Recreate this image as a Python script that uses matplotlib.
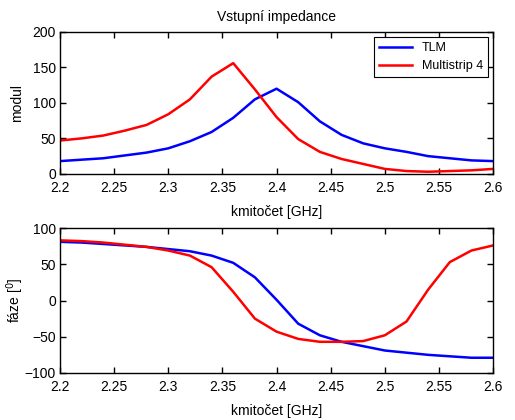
import numpy as np
import matplotlib
matplotlib.use("Agg")
import matplotlib.pyplot as plt

plt.rcParams['font.family'] = ['Liberation Sans', 'DejaVu Sans']
plt.rcParams['font.size'] = 10

# frequency [GHz]
freq = np.round(np.arange(2.2, 2.6001, 0.02), 2)

# magnitude
mod_tlm = [18, 20, 22, 26, 30, 36, 46, 59, 79, 105, 120,
           101, 74, 55, 43, 36, 31, 25, 22, 19, 18]
mod_ms4 = [47, 50, 54, 61, 69, 84, 105, 137, 156, 119, 80,
           49, 31, 21, 14, 7, 4, 3, 4, 5, 7]

# phase [deg]
faze_tlm = [81, 80, 78, 76, 74, 71, 68, 62, 52, 32, 1,
            -32, -48, -57, -63, -69, -72, -75, -77, -79, -79]
faze_ms4 = [83, 82, 80, 77, 74, 69, 62, 46, 12, -25, -43,
            -53, -57, -57, -56, -48, -29, 15, 53, 69, 76]

xticks = [2.2, 2.25, 2.3, 2.35, 2.4, 2.45, 2.5, 2.55, 2.6]

fig = plt.figure(figsize=(5.15, 4.2), dpi=100)
ax1 = fig.add_axes([0.1165, 0.586, 0.841, 0.338])
ax2 = fig.add_axes([0.1165, 0.112, 0.841, 0.345])

ax1.plot(freq, mod_tlm, color='#0000ff', lw=1.8, label='TLM')
ax1.plot(freq, mod_ms4, color='#ff0000', lw=1.8, label='Multistrip 4')
ax1.set_ylim(0, 200)
ax1.set_yticks([0, 50, 100, 150, 200])
ax1.set_ylabel('modul')
ax1.yaxis.set_label_coords(-0.083, 0.5)
ax1.set_title('Vstupní impedance', fontsize=10, pad=8)
leg = ax1.legend(loc='upper right', fancybox=False, framealpha=1,
                 edgecolor='black', borderaxespad=0.4, handlelength=2.6,
                 fontsize=9)
leg.get_frame().set_linewidth(0.8)

ax2.plot(freq, faze_tlm, color='#0000ff', lw=1.8)
ax2.plot(freq, faze_ms4, color='#ff0000', lw=1.8)
ax2.set_ylim(-100, 100)
ax2.set_yticks([-100, -50, 0, 50, 100])
ax2.set_ylabel('fáze [$^0$]')
ax2.yaxis.set_label_coords(-0.078, 0.5)

for ax in (ax1, ax2):
    ax.set_xlim(2.2, 2.6)
    ax.set_xticks(xticks)
    ax.set_xticklabels([f'{t:g}' for t in xticks])
    ax.set_xlabel('kmitočet [GHz]', labelpad=7)
    ax.tick_params(direction='in', top=True, right=True, length=4,
                   width=1, labelsize=10)
    ax.tick_params(axis='x', pad=5)
    ax.tick_params(axis='y', pad=3)
    for s in ax.spines.values():
        s.set_linewidth(1)

fig.savefig('out.png', dpi=100)
